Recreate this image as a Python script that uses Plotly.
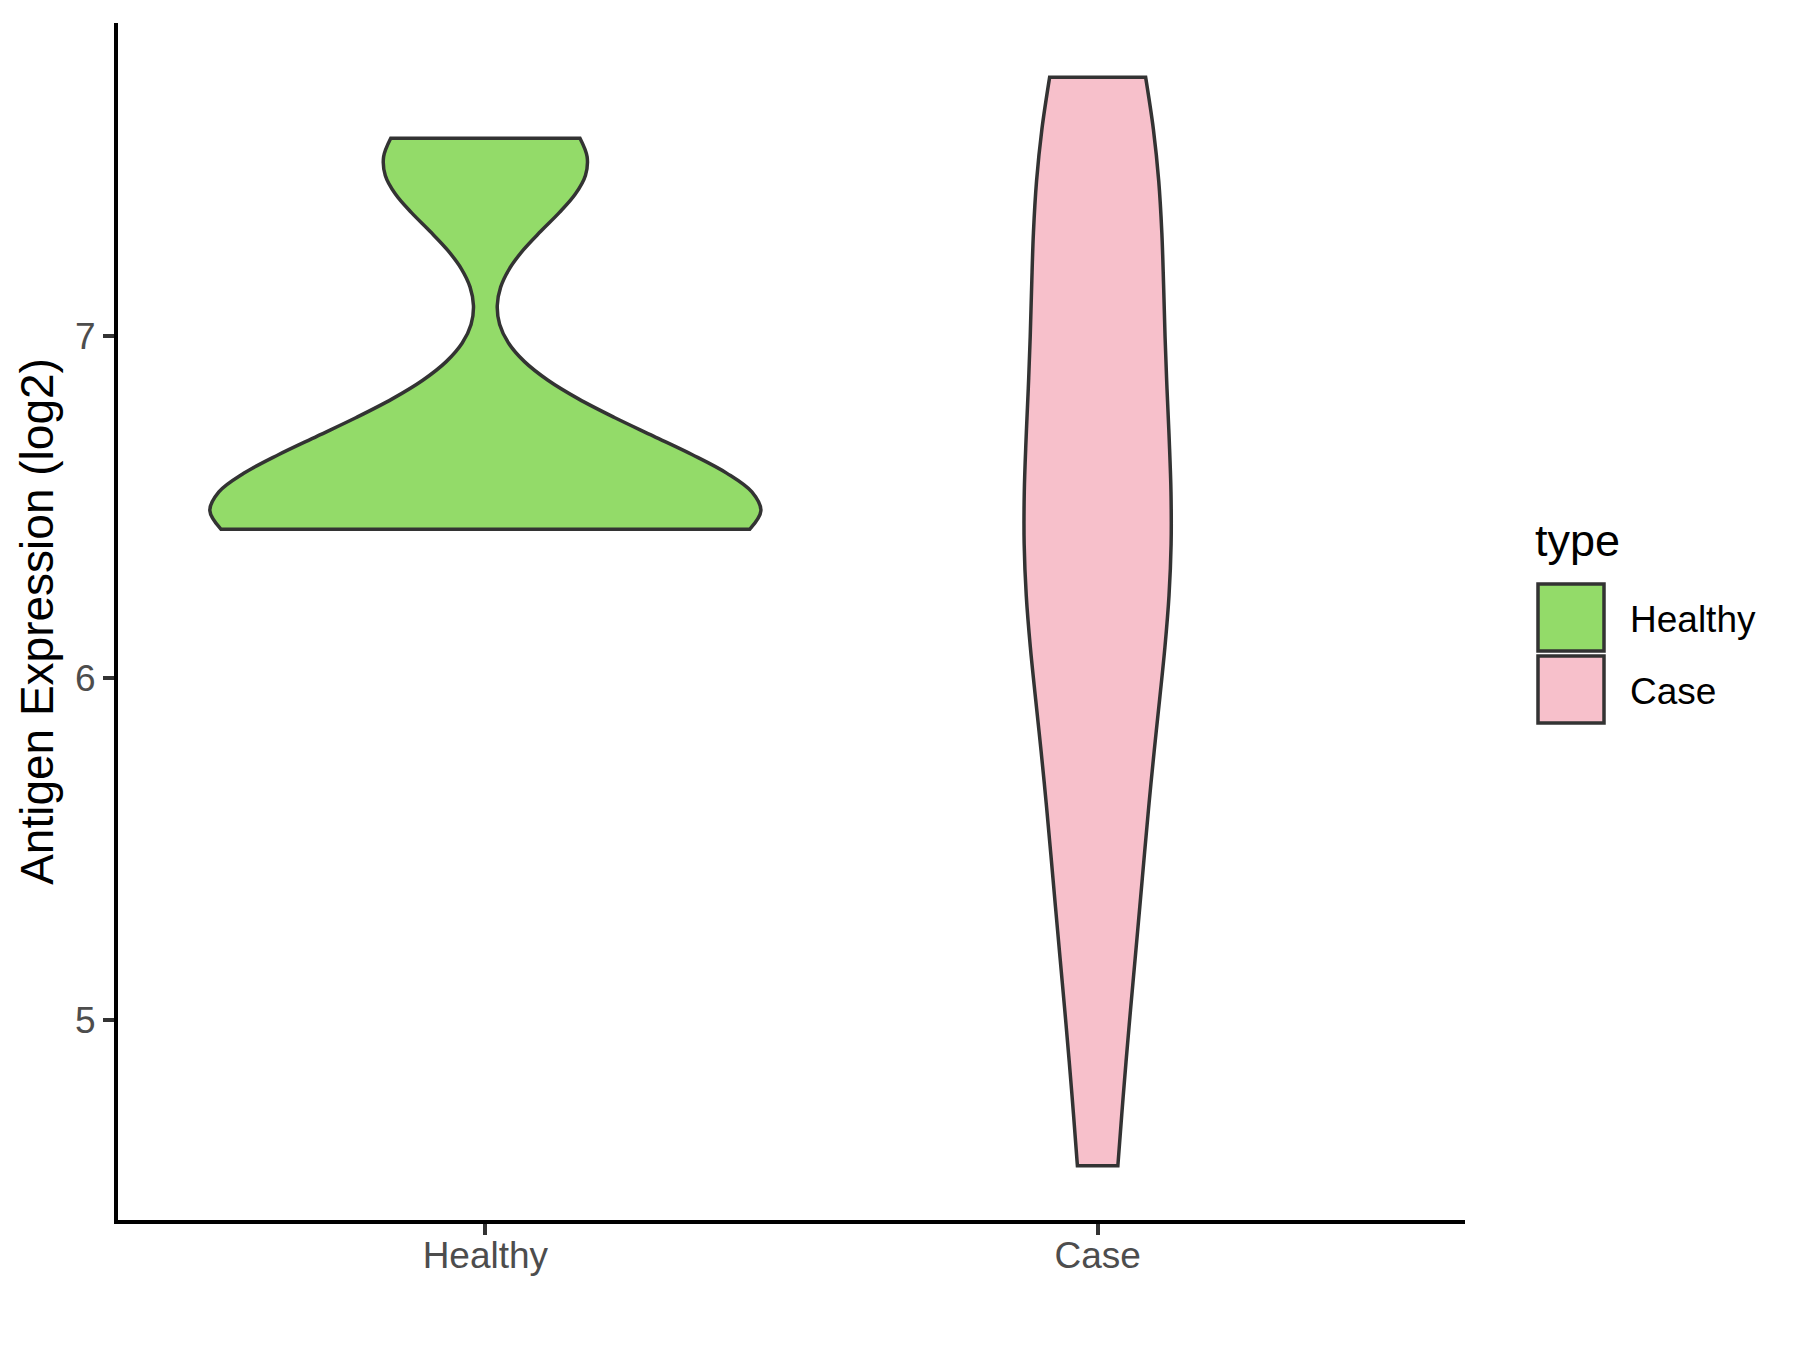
import plotly.graph_objects as go

# ---------------- data ----------------
categories = ["Healthy", "Case"]
healthy_values = [6.436, 6.436, 6.447, 6.452, 6.638, 6.711, 7.437, 7.58]
case_values = [4.574, 5.36, 5.38, 5.85, 6.32, 6.38, 6.42, 6.43, 6.97, 7.22, 7.51, 7.54, 7.758]
y_tick_values = [5, 6, 7]
legend_title = "type"
y_title = "Antigen Expression (log2)"

# ---------------- style ----------------
fill_colors = {"Healthy": "#93DB69", "Case": "#F7C0CB"}
bandwidths = {"Healthy": 0.164, "Case": 0.477}
widths = {"Healthy": 0.9, "Case": 0.24}
outline = "#333333"
FONT = "Liberation Sans, Arial, Helvetica, sans-serif"

OFF = 8  # browser body margin
W, H = 1800 - 2 * OFF, 1350 - 2 * OFF
# target plot area in screen pixels: x 118..1465, y 23..1220
ML, MT = 118 - OFF, 23 - OFF
PW, PH = 1347, 1197
MR, MB = W - ML - PW, H - MT - PH


def px(x):
    return (x - OFF - ML) / PW


def py(y):
    return (MT + PH - (y - OFF)) / PH


fig = go.Figure()
series = {"Healthy": healthy_values, "Case": case_values}
for cat in categories:
    vals = series[cat]
    fig.add_trace(go.Violin(
        x=[cat] * len(vals),
        y=vals,
        name=cat,
        scalegroup=cat,
        scalemode="width",
        width=widths[cat],
        bandwidth=bandwidths[cat],
        spanmode="hard",
        points=False,
        box_visible=False,
        meanline_visible=False,
        fillcolor=fill_colors[cat],
        line=dict(color=outline, width=3.5),
        opacity=1,
        showlegend=False,
        hoverinfo="skip",
    ))

# ggplot-like legend with large keys
shapes = []
annotations = []
key_x0, key_x1 = 1538, 1604
key_rows = [(584, 651), (656, 723)]
label_y = [619, 691]
for cat, (y0, y1), ly in zip(categories, key_rows, label_y):
    shapes.append(dict(
        type="rect", xref="paper", yref="paper",
        x0=px(key_x0), x1=px(key_x1), y0=py(y1), y1=py(y0),
        fillcolor=fill_colors[cat], line=dict(color=outline, width=3.5),
    ))
    annotations.append(dict(
        text=cat, xref="paper", yref="paper", x=px(1628), y=py(ly),
        xanchor="left", yanchor="middle", showarrow=False,
        font=dict(family=FONT, size=37, color="black"),
    ))
annotations.append(dict(
    text=legend_title, xref="paper", yref="paper", x=px(1533), y=py(540),
    xanchor="left", yanchor="middle", showarrow=False,
    font=dict(family=FONT, size=45, color="black"),
))

fig.update_layout(
    width=W, height=H,
    margin=dict(l=ML, r=MR, t=MT, b=MB, pad=0),
    paper_bgcolor="white", plot_bgcolor="white",
    violinmode="overlay",
    showlegend=False,
    font=dict(family=FONT),
    shapes=shapes,
    annotations=annotations,
    xaxis=dict(
        type="category",
        categoryorder="array", categoryarray=categories,
        range=[-0.6, 1.6],
        showline=True, linecolor="black", linewidth=4,
        ticks="outside", ticklen=11, tickwidth=4, tickcolor=outline,
        tickfont=dict(family=FONT, size=37, color="#4D4D4D"),
        ticklabelstandoff=-11,
        showgrid=False, zeroline=False,
    ),
    yaxis=dict(
        range=[4.415, 7.917],
        tickvals=y_tick_values,
        ticktext=[str(v) for v in y_tick_values],
        showline=True, linecolor="black", linewidth=4,
        ticks="outside", ticklen=11, tickwidth=4, tickcolor=outline,
        tickfont=dict(family=FONT, size=37, color="#4D4D4D"),
        ticklabelstandoff=0,
        showgrid=False, zeroline=False,
        title=dict(text=y_title, font=dict(family=FONT, size=46, color="black"), standoff=8),
    ),
)

fig.write_html("out.html")
